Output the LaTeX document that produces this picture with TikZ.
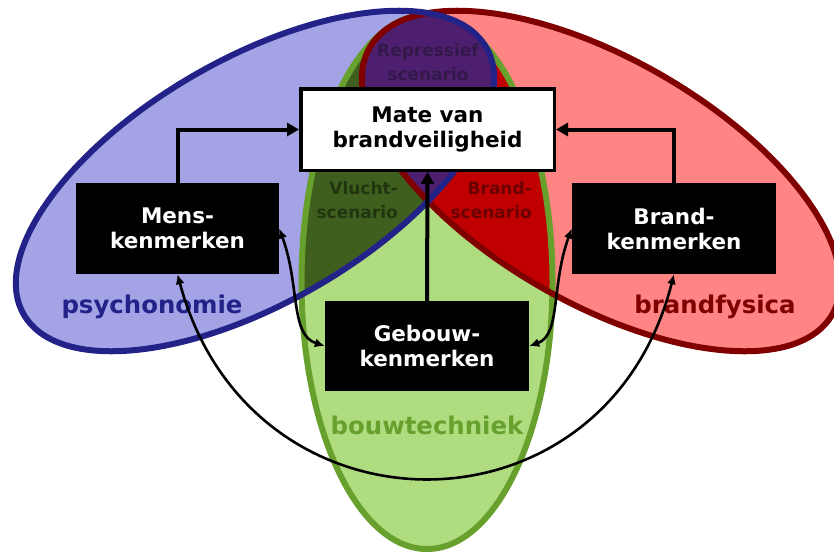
\documentclass[tikz,border=0pt]{standalone}
\usepackage{fontspec}
\setmainfont{DejaVu Sans}
\usetikzlibrary{arrows.meta}

\definecolor{psyfill}{HTML}{A3A3E6}
\definecolor{psyline}{HTML}{222288}
\definecolor{firefill}{HTML}{FF8585}
\definecolor{fireline}{HTML}{800000}
\definecolor{bldfill}{HTML}{B0DC80}
\definecolor{bldline}{HTML}{68A02D}
\definecolor{escfill}{HTML}{3F5F1F}
\definecolor{burnfill}{HTML}{C00000}
\definecolor{rescfill}{HTML}{4F1F6F}
\definecolor{esctext}{HTML}{22350F}
\definecolor{burntext}{HTML}{6A0000}
\definecolor{resctext}{HTML}{33184A}

% the three domains as ellipses
\newcommand\psyellipse{[rotate around={30:(255,181)}] (255,181) ellipse [x radius=267pt, y radius=122pt]}
\newcommand\fireellipse{[rotate around={-30:(601,181)}] (601,181) ellipse [x radius=267pt, y radius=122pt]}
\newcommand\bldellipse{(427,282) ellipse [x radius=125.5pt, y radius=267pt]}

\begin{document}
\begin{tikzpicture}[x=1pt,y=-1pt,
  kbox/.style={fill=black, text=white, font=\fontsize{21.5}{25}\selectfont\bfseries,
    align=center, inner sep=0pt},
  mainbox/.style={draw=black, line width=3.5pt, fill=white, text=black,
    font=\fontsize{21.5}{25}\selectfont\bfseries, align=center, inner sep=0pt},
  fieldlabel/.style={font=\fontsize{24.4}{28}\selectfont\bfseries},
  overlap/.style={font=\fontsize{17}{24}\selectfont\bfseries, align=right, inner sep=0pt},
  thick arrow/.style={line width=4pt, -{Triangle[length=12pt,width=13pt]}},
  thin arrow/.style={line width=2.6pt, {Latex[length=10pt,width=9pt]}-{Latex[length=10pt,width=9pt]}}
]
\useasboundingbox (0,0) rectangle (834,552);

% fills
\fill[psyfill] \psyellipse;
\fill[firefill] \fireellipse;
\fill[bldfill] \bldellipse;
\begin{scope}
  \clip \bldellipse;
  \fill[escfill] \psyellipse;
  \fill[burnfill] \fireellipse;
\end{scope}
\draw[bldline, line width=6pt] \bldellipse;
% the repressive scenario sits on top of the building outline
\begin{scope}
  \clip \psyellipse;
  \fill[rescfill] \fireellipse;
\end{scope}

% outlines
\draw[fireline, line width=6pt] \fireellipse;
\draw[psyline, line width=6pt] \psyellipse;

% domain and scenario labels
\node[fieldlabel, text=psyline] (psy) at (152,307) {psychonomie};
\node[fieldlabel, text=fireline] (fire) at (715,307) {brandfysica};
\node[fieldlabel, text=bldline] (bld) at (427,425) {bouwtechniek};
\node[overlap, text=esctext, anchor=east] (esc) at (398,200) {Vlucht-\\scenario};
\node[overlap, text=burntext, anchor=east] (burn) at (532,200) {Brand-\\scenario};
\node[overlap, text=resctext, align=center] (resc) at (428,62) {Repressief\\scenario};

% boxes
\node[mainbox, minimum width=253.5pt, minimum height=81.5pt] (mate) at (427.5,129.5) {Mate van\\brandveiligheid};
\node[kbox, minimum width=203pt, minimum height=91pt] (mens) at (177.5,228.5) {Mens-\\kenmerken};
\node[kbox, minimum width=204pt, minimum height=91pt] (brand) at (674,228.5) {Brand-\\kenmerken};
\node[kbox, minimum width=204pt, minimum height=90pt] (gebouw) at (427,346) {Gebouw-\\kenmerken};

% influences on the level of fire safety
\draw[thick arrow] (mens.north) |- (mate.west);
\draw[thick arrow] (brand.north) |- (mate.east);
\draw[thick arrow] (gebouw.north) -- (mate.south);

% mutual relations
\draw[thin arrow] (mens.east) .. controls (300,285) and (290,335) .. (gebouw.west);
\draw[thin arrow] (brand.west) .. controls (551,285) and (561,335) .. (gebouw.east);
\draw[thin arrow] (mens.south) .. controls (250,545) and (605,545) .. (brand.south);
\end{tikzpicture}
\end{document}
